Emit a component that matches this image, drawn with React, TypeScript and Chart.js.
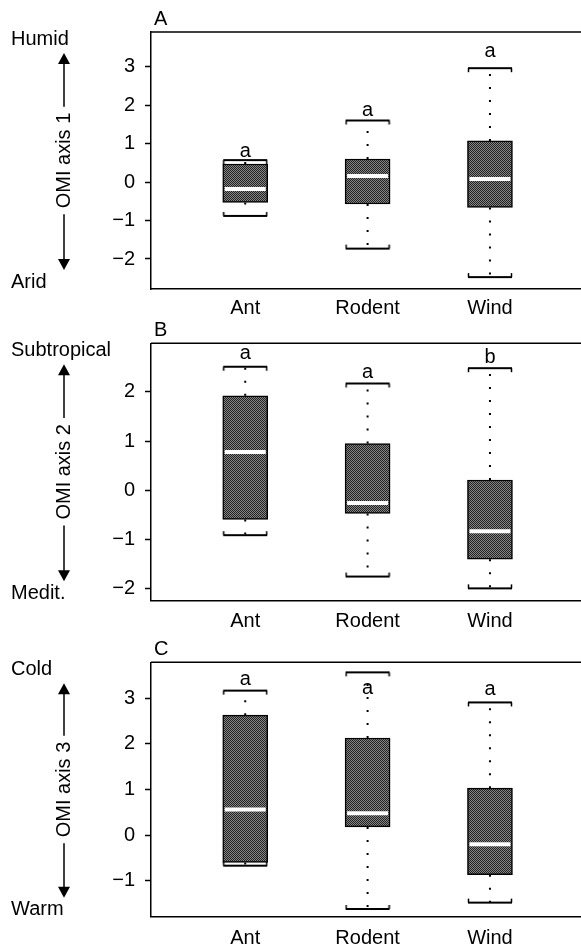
import React, { useEffect, useRef } from 'react';
import { Chart, registerables } from 'chart.js';

Chart.register(...registerables);

// ---------- data ----------
const categories = ['Ant', 'Rodent', 'Wind'];
const catX = [1, 2, 3];

// Panel A – OMI axis 1
const lowA = [-0.88, -1.73, -2.47];
const q1A = [-0.53, -0.57, -0.66];
const medA = [-0.18, 0.16, 0.08];
const q3A = [0.47, 0.6, 1.07];
const highA = [0.57, 1.6, 2.96];
const lettersA = ['a', 'a', 'a'];
const letterYA = [0.79, 1.84, 3.39];
const yTicksA = [-2, -1, 0, 1, 2, 3];

// Panel B – OMI axis 2
const lowB = [-0.91, -1.75, -1.99];
const q1B = [-0.59, -0.47, -1.4];
const medB = [0.78, -0.26, -0.83];
const q3B = [1.92, 0.95, 0.21];
const highB = [2.51, 2.17, 2.48];
const lettersB = ['a', 'a', 'b'];
const letterYB = [2.76, 2.39, 2.69];
const yTicksB = [-2, -1, 0, 1, 2];

// Panel C – OMI axis 3
const lowC = [-0.67, -1.62, -1.48];
const q1C = [-0.6, 0.18, -0.87];
const medC = [0.56, 0.48, -0.2];
const q3C = [2.63, 2.13, 1.03];
const highC = [3.17, 3.57, 2.91];
const lettersC = ['a', 'a', 'a'];
const letterYC = [3.41, 3.21, 3.19];
const yTicksC = [-1, 0, 1, 2, 3];

const FONT = "'Liberation Sans', Arial, Helvetica, sans-serif";

function makePattern(ctx: CanvasRenderingContext2D) {
  const c = document.createElement('canvas');
  c.width = 2;
  c.height = 2;
  const g = c.getContext('2d')!;
  g.fillStyle = '#858585';
  g.fillRect(0, 0, 2, 2);
  g.fillStyle = '#222222';
  g.fillRect(0, 0, 1, 1);
  g.fillRect(1, 1, 1, 1);
  return ctx.createPattern(c, 'repeat')!;
}

function makeCap(up: boolean) {
  const w = 46;
  const h = 12;
  const c = document.createElement('canvas');
  c.width = w;
  c.height = h;
  const g = c.getContext('2d')!;
  g.strokeStyle = '#000';
  g.lineWidth = 2;
  g.beginPath();
  g.moveTo(1, h / 2);
  g.lineTo(w - 1, h / 2);
  g.stroke();
  g.lineWidth = 1.5;
  const dir = up ? 1 : -1; // upper cap: ticks point down
  g.beginPath();
  g.moveTo(1.5, h / 2);
  g.lineTo(1.5, h / 2 + dir * 4);
  g.moveTo(w - 1.5, h / 2);
  g.lineTo(w - 1.5, h / 2 + dir * 4);
  g.stroke();
  return c;
}

type PanelProps = {
  top: number;
  height: number;
  padTop: number;
  xAxisH: number;
  xPad: number;
  yMin: number;
  yMax: number;
  yTicks: number[];
  low: number[];
  q1: number[];
  med: number[];
  q3: number[];
  high: number[];
  letters: string[];
  letterY: number[];
  panel: string;
  title: string;
  hiLabel: string;
  loLabel: string;
};

function Panel(p: PanelProps) {
  const ref = useRef<HTMLCanvasElement>(null);
  useEffect(() => {
    const canvas = ref.current!;
    const ctx = canvas.getContext('2d')!;
    const pattern = makePattern(ctx);
    const capUp = makeCap(true);
    const capDown = makeCap(false);

    const whisker: any[] = [];
    catX.forEach((x, i) => {
      whisker.push({ x, y: p.q3[i] }, { x, y: p.high[i] }, { x, y: null });
      whisker.push({ x, y: p.q1[i] }, { x, y: p.low[i] }, { x, y: null });
    });

    const decor = {
      id: 'decor',
      afterDraw(chart: any) {
        const c = chart.ctx as CanvasRenderingContext2D;
        const { left, top, right, bottom } = chart.chartArea;
        const xs = chart.scales.x;
        const ys = chart.scales.y;
        c.save();
        c.strokeStyle = '#000';
        c.lineWidth = 1.5;
        c.beginPath();
        c.moveTo(left, top);
        c.lineTo(right, top);
        c.stroke();

        c.fillStyle = '#000';
        c.font = `20px ${FONT}`;
        c.textAlign = 'center';
        c.textBaseline = 'alphabetic';
        catX.forEach((cx, i) => {
          c.fillText(p.letters[i], xs.getPixelForValue(cx), ys.getPixelForValue(p.letterY[i]) + 5);
        });

        c.textAlign = 'left';
        c.textBaseline = 'middle';
        c.fillText(p.panel, left + 3, top - 13);

        c.fillText(p.hiLabel, 11, top + 7);
        c.fillText(p.loLabel, 11, bottom - 7);

        const ax = 64;
        const mid = (top + bottom) / 2;
        const tw = c.measureText(p.title).width;
        c.save();
        c.translate(ax, mid);
        c.rotate(-Math.PI / 2);
        c.textAlign = 'center';
        c.textBaseline = 'middle';
        c.fillText(p.title, 0, 0);
        c.restore();

        const tipTop = top + 21;
        const tipBot = bottom - 19;
        c.lineWidth = 1.5;
        c.beginPath();
        c.moveTo(ax, tipTop + 8);
        c.lineTo(ax, mid - tw / 2 - 6);
        c.moveTo(ax, mid + tw / 2 + 6);
        c.lineTo(ax, tipBot - 8);
        c.stroke();
        c.beginPath();
        c.moveTo(ax, tipTop);
        c.lineTo(ax - 6, tipTop + 11);
        c.lineTo(ax + 6, tipTop + 11);
        c.closePath();
        c.moveTo(ax, tipBot);
        c.lineTo(ax - 6, tipBot - 11);
        c.lineTo(ax + 6, tipBot - 11);
        c.closePath();
        c.fill();
        c.restore();
      },
    };

    const fmt = (v: number) => (v < 0 ? '\u2212' + Math.abs(v) : String(v));

    const chart = new Chart(canvas, {
      type: 'bar',
      data: {
        datasets: [
          {
            type: 'bar',
            data: catX.map((x, i) => ({ x, y: [p.q1[i], p.q3[i]] })) as any,
            backgroundColor: pattern as any,
            borderColor: '#000',
            borderWidth: 1.5,
            borderSkipped: false,
            barThickness: 45,
            order: 2,
          } as any,
          {
            type: 'line',
            data: whisker,
            borderColor: '#000',
            borderWidth: 2,
            borderDash: [2, 11],
            pointRadius: 0,
            spanGaps: false,
            fill: false,
            order: 4,
          } as any,
          {
            type: 'scatter',
            data: catX.map((x, i) => ({ x, y: p.high[i] })),
            pointStyle: capUp as any,
            pointRadius: 23,
            order: 3,
          } as any,
          {
            type: 'scatter',
            data: catX.map((x, i) => ({ x, y: p.low[i] })),
            pointStyle: capDown as any,
            pointRadius: 23,
            order: 3,
          } as any,
          {
            type: 'scatter',
            data: catX.map((x, i) => ({ x, y: p.med[i] })),
            pointStyle: 'line',
            pointRadius: 20.5,
            pointBorderWidth: 4,
            pointBorderColor: '#ffffff',
            borderColor: '#ffffff',
            order: 1,
          } as any,
        ],
      },
      options: {
        responsive: false,
        animation: false,
        events: [],
        layout: { autoPadding: false, padding: { top: p.padTop, left: 0, right: 0, bottom: 0 } },
        plugins: { legend: { display: false }, tooltip: { enabled: false } },
        scales: {
          x: {
            type: 'linear',
            offset: false,
            min: 0.23,
            max: 3.744,
            afterBuildTicks: (s: any) => {
              s.ticks = catX.map((v) => ({ value: v }));
            },
            afterFit: (s: any) => {
              s.height = p.xAxisH;
              s.paddingRight = 0;
              s.paddingLeft = 0;
            },
            ticks: {
              callback: (_v: any, i: number) => categories[i],
              color: '#000',
              font: { family: FONT, size: 20 },
              padding: p.xPad,
              maxRotation: 0,
              autoSkip: false,
            },
            grid: { display: true, offset: false, drawOnChartArea: false, drawTicks: false },
            border: { display: true, color: '#000', width: 1.5 },
          },
          y: {
            type: 'linear',
            min: p.yMin,
            max: p.yMax,
            afterBuildTicks: (s: any) => {
              s.ticks = p.yTicks.map((v) => ({ value: v }));
            },
            afterFit: (s: any) => {
              s.width = 151;
            },
            ticks: {
              callback: (v: any) => fmt(Number(v)),
              color: '#000',
              font: { family: FONT, size: 20 },
              padding: 10,
            },
            grid: {
              display: true,
              drawOnChartArea: false,
              drawTicks: true,
              tickLength: 6,
              tickColor: '#000',
              tickWidth: 1.5,
            },
            border: { display: true, color: '#000', width: 1.5 },
          },
        },
      } as any,
      plugins: [decor],
    });
    return () => chart.destroy();
  }, []);
  return (
    <canvas
      ref={ref}
      width={581}
      height={p.height}
      style={{ position: 'absolute', left: 0, top: p.top, width: 581, height: p.height }}
    />
  );
}

export default function App() {
  return (
    <div style={{ position: 'absolute', left: 0, top: 0, width: 581, height: 951, background: '#fff', overflow: 'hidden' }}>
      <Panel
        top={0}
        height={316}
        padTop={32}
        xAxisH={27}
        xPad={7}
        yMin={-2.78}
        yMax={3.9}
        yTicks={yTicksA}
        low={lowA}
        q1={q1A}
        med={medA}
        q3={q3A}
        high={highA}
        letters={lettersA}
        letterY={letterYA}
        panel="A"
        title="OMI axis 1"
        hiLabel="Humid"
        loLabel="Arid"
      />
      <Panel
        top={316}
        height={316}
        padTop={27.3}
        xAxisH={31.7}
        xPad={9}
        yMin={-2.233}
        yMax={2.985}
        yTicks={yTicksB}
        low={lowB}
        q1={q1B}
        med={medB}
        q3={q3B}
        high={highB}
        letters={lettersB}
        letterY={letterYB}
        panel="B"
        title="OMI axis 2"
        hiLabel="Subtropical"
        loLabel="Medit."
      />
      <Panel
        top={632}
        height={319}
        padTop={30.3}
        xAxisH={34.3}
        xPad={10}
        yMin={-1.79}
        yMax={3.79}
        yTicks={yTicksC}
        low={lowC}
        q1={q1C}
        med={medC}
        q3={q3C}
        high={highC}
        letters={lettersC}
        letterY={letterYC}
        panel="C"
        title="OMI axis 3"
        hiLabel="Cold"
        loLabel="Warm"
      />
    </div>
  );
}
